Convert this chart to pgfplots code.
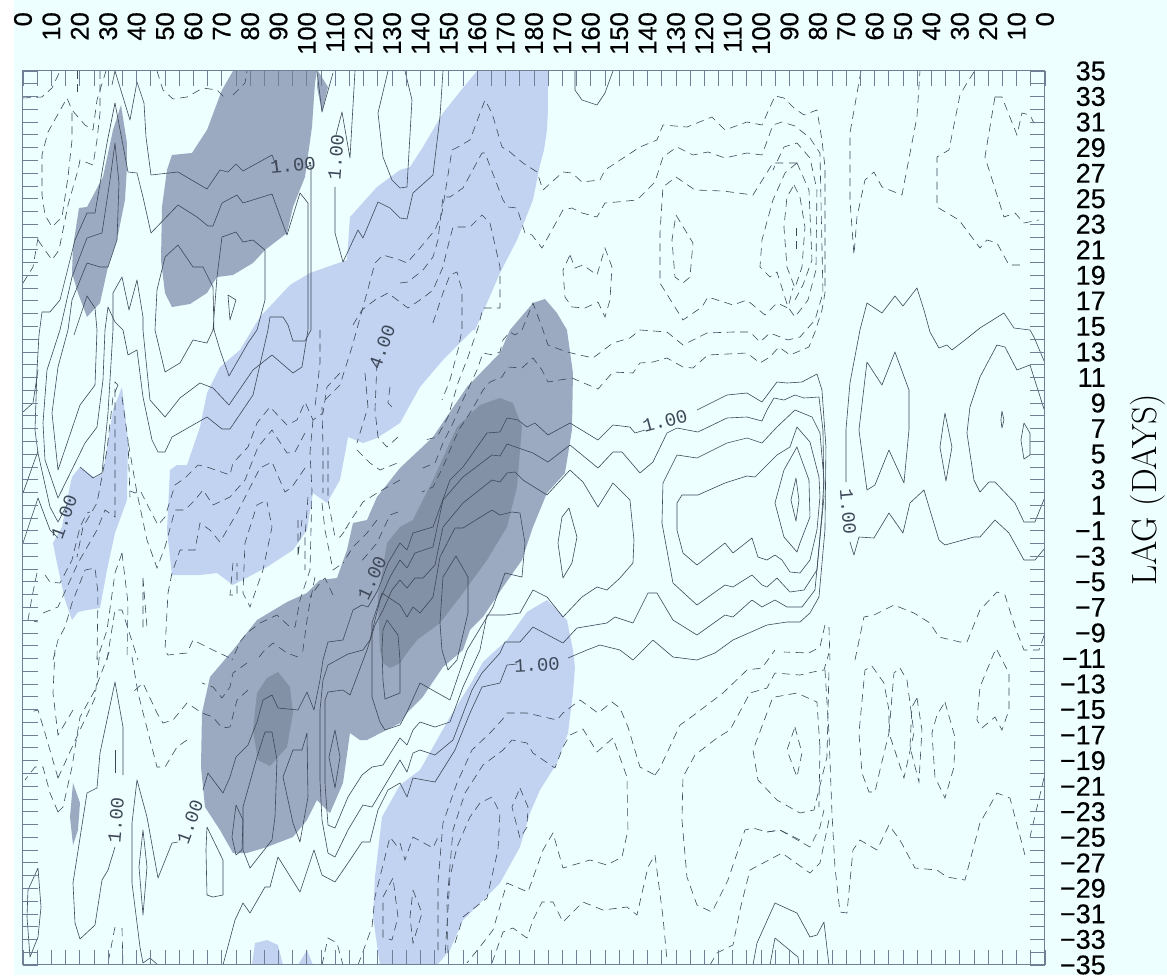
\documentclass[border=0pt]{standalone}
\usepackage{fontspec}
\usepackage{pgfplots}
\pgfplotsset{compat=1.18}
\setmainfont{Latin Modern Roman}
\newfontfamily\tickf[FakeBold=0.4]{Liberation Sans}
\newfontfamily\monof{Liberation Mono}
\definecolor{bgc}{HTML}{EEFFFF}
\definecolor{lightf}{HTML}{C1D3F0}
\definecolor{darkf}{HTML}{9BA9C1}
\definecolor{darkerf}{HTML}{8391A6}
\definecolor{linec}{HTML}{3E4859}
\definecolor{framec}{HTML}{717F96}
\pgfplotsset{
 sol/.style={linec,line width=0.6pt,no markers,line join=round},
 dsh/.style={linec,line width=0.6pt,no markers,dash pattern=on 8pt off 5.5pt},
 sh/.style={fill=#1,draw=none,no markers}
}
\newcommand\lab[4]{\node[rotate=#3,font=\monof\fontsize{19pt}{19pt}\selectfont,text=linec,inner sep=0pt] at (#1pt,{(976-#2)*1pt}) {#4};}
\begin{document}
\begin{tikzpicture}
\useasboundingbox (0,0) rectangle (1167pt,976pt);
\fill[white] (0,0) rectangle (1167pt,976pt);
\fill[bgc] (14pt,1pt) rectangle (1167pt,976pt);
\begin{axis}[
 at={(23pt,11pt)},anchor=south west,
 width=1022pt,height=894pt,scale only axis,
 xmin=0,xmax=360,ymin=-35,ymax=35,
 x filter/.expression={(x-23)/2.8389},
 y filter/.expression={35-(y-71)/12.771},
 axis on top,
 axis line style={framec,line width=1pt},
 tick style={framec,line width=0.8pt},
 tick align=inside,
 major tick length=15pt,minor tick length=15pt,
 xtick={0,10,...,360},minor x tick num=1,
 ytick={-35,-33,...,35},minor y tick num=1,
 xtick pos=both,ytick pos=both,
 xticklabel pos=top,yticklabel pos=right,
 xticklabels={0,10,20,30,40,50,60,70,80,90,100,110,120,130,140,150,160,170,180,170,160,150,140,130,120,110,100,90,80,70,60,50,40,30,20,10,0},
 yticklabels={−35,−33,−31,−29,−27,−25,−23,−21,−19,−17,−15,−13,−11,−9,−7,−5,−3,−1,1,3,5,7,9,11,13,15,17,19,21,23,25,27,29,31,33,35},
 xticklabel style={rotate=90,anchor=east,inner sep=0pt,xshift=59pt,font=\tickf\fontsize{25.5pt}{25.5pt}\selectfont},
 yticklabel style={anchor=east,inner sep=0pt,xshift=61pt,font=\tickf\fontsize{27pt}{27pt}\selectfont},
]
% shaded light
\addplot[sh=lightf] coordinates {(548,71)(548,110)(547,130)(544,150)(540,165)(533,200)(517,240)(500,273)(487,303)(475,330)(473,330)(443,360)(420,387)(400,423)(377,438)(363,443)(348,437)(347,443)(340,480)(327,503)(313,493)(307,530)(293,550)(267,567)(233,585)(217,573)(200,575)(172,575)(167,530)(170,470)(177,465)(187,465)(200,427)(207,393)(220,367)(240,350)(252,330)(260,317)(290,285)(310,273)(347,260)(350,217)(377,187)(400,170)(410,167)(423,147)(443,113)(463,88)(477,71)} -- cycle;
\addplot[sh=lightf] coordinates {(122,387)(128,440)(127,500)(115,533)(107,570)(100,608)(87,610)(78,612)(72,620)(65,600)(57,563)(53,543)(62,527)(67,500)(72,477)(80,467)(95,478)(103,473)(113,410)} -- cycle;
\addplot[sh=lightf] coordinates {(547,600)(567,620)(573,650)(575,667)(573,693)(568,733)(557,763)(540,790)(530,813)(520,847)(500,883)(483,900)(463,920)(450,950)(437,965)(380,965)(373,917)(375,877)(382,817)(400,785)(420,770)(433,747)(450,717)(473,680)(483,662)(507,640)(527,612)} -- cycle;
\addplot[sh=lightf] coordinates {(252,965)(255,943)(267,940)(278,945)(283,965)} -- cycle;
\addplot[sh=lightf] coordinates {(298,965)(307,950)(313,965)} -- cycle;
% shaded dark
\addplot[sh=darkf] coordinates {(233,71)(317,71)(315,83)(312,127)(305,177)(293,207)(287,233)(265,250)(253,263)(233,275)(217,277)(207,293)(190,304)(172,307)(165,293)(161,260)(162,207)(167,170)(172,155)(192,153)(207,130)(222,90)} -- cycle;
\addplot[sh=darkf] coordinates {(318,71)(328,87)(322,112)(317,87)} -- cycle;
\addplot[sh=darkf] coordinates {(121,105)(127,143)(127,167)(125,200)(117,240)(108,267)(100,303)(87,317)(78,293)(72,273)(73,247)(79,208)(87,207)(103,177)(113,130)} -- cycle;
\addplot[sh=darkf] coordinates {(73,783)(80,803)(78,830)(73,845)(70,817)} -- cycle;
\addplot[sh=darkf] coordinates {(545,299)(557,313)(567,330)(573,373)(572,430)(565,473)(547,493)(533,527)(522,560)(503,587)(483,617)(470,630)(463,650)(443,667)(422,698)(407,713)(400,723)(367,740)(360,740)(350,733)(343,783)(330,813)(317,800)(307,820)(293,837)(267,847)(247,853)(233,853)(220,830)(205,807)(201,767)(202,713)(210,677)(233,650)(257,620)(287,602)(307,593)(320,580)(337,578)(347,550)(353,523)(367,520)(377,497)(400,468)(433,437)(467,387)(500,353)(510,330)(533,303)} -- cycle;
% shaded darkest
\addplot[sh=darkerf] coordinates {(500,398)(513,403)(522,427)(517,487)(507,527)(487,560)(463,593)(440,623)(417,640)(407,653)(400,663)(390,668)(383,663)(380,650)(378,597)(387,543)(400,527)(413,520)(433,480)(457,427)(480,405)} -- cycle;
\addplot[sh=darkerf] coordinates {(278,672)(290,687)(293,713)(287,747)(270,766)(258,760)(253,730)(257,693)(267,678)} -- cycle;
% solid contours
\addplot[sol] coordinates {(115,71)(130,120)(137,82)(144,103)(146,137)(151,175)(178,172)(207,189)(220,170)(228,172)(236,164)(243,171)(272,155)(278,170)};
\addplot[sol] coordinates {(115,71)(112,85)};
\addplot[sol] coordinates {(305,168)(311,165)(311,330)(305,341)(293,341)(288,325)(283,317)(270,317)(268,330)(253,395)(230,429)(222,429)(207,417)(172,437)(165,452)(158,452)(152,440)(143,397)(137,350)(128,355)(123,330)(115,322)(108,307)(105,330)(103,380)(97,427)(85,443)(58,498)(45,460)(43,423)(47,370)(60,330)(72,277)(87,238)(102,233)(110,180)(115,143)(119,183)(117,240)(108,267)(100,267)(87,263)(72,300)(68,330)(58,367)(52,413)(58,470)(80,405)(95,385)(97,330)(95,308)(87,296)(80,317)(74,335)};
\addplot[sol] coordinates {(115,103)(107,143)(95,213)(87,213)(75,240)(60,300)(50,312)(42,312)(39,335)(37,370)(35,430)(38,453)(50,507)(58,522)(68,503)};
\addplot[sol] coordinates {(80,467)(93,478)(102,473)(108,413)(113,330)(113,293)(122,277)(129,310)(137,280)(143,317)(143,330)(150,400)(165,417)(180,398)(200,383)(213,388)(229,405)(253,370)(272,355)(293,373)(302,367)(308,330)(308,203)(300,193)(287,235)(272,194)(243,203)(237,195)(222,203)(213,226)(208,226)(197,217)(178,205)(151,233)(143,197)(137,173)(128,172)(115,103)};
\addplot[sol] coordinates {(155,330)(157,290)(165,257)(178,245)(193,267)(203,267)(213,287)(214,330)(220,350)(229,376)(248,343)(257,330)(265,300)(265,250)(253,240)(243,242)(236,232)(222,237)(217,277)(213,330)(207,343)(193,340)(180,363)(165,372)(155,330)};
\addplot[sol] coordinates {(228,295)(236,300)(230,320)(228,295)};
\addplot[sol] coordinates {(23,493)(38,451)};
\addplot[sol] coordinates {(23,543)(38,498)(50,530)(58,538)};
\addplot[sol] coordinates {(23,412)(33,403)(38,370)};
\addplot[sol] coordinates {(317,71)(322,112)(333,73)};
\addplot[sol] coordinates {(355,71)(350,158)(342,112)(336,135)};
\addplot[sol] coordinates {(335,187)(335,233)(343,262)(358,230)(363,238)(378,202)(390,208)(400,218)(407,219)(413,193)(433,175)(440,117)(443,71)};
\addplot[sol] coordinates {(388,71)(378,113)(383,157)(392,180)(400,188)(407,187)(412,100)(405,71)};
\addplot[sol] coordinates {(575,71)(575,90)(582,100)(597,105)(605,93)(613,71)};
% centre contours
\addplot[sol] coordinates {(203,790)(208,773)(223,793)(230,777)(236,757)(248,745)(257,722)(263,700)(272,695)(278,708)(298,710)(307,692)(314,710)(320,680)(323,660)(328,642)(343,640)(353,610)(362,605)(368,607)(378,590)(388,563)(400,543)(407,550)(413,533)(433,527)(450,480)(463,467)(487,433)(500,432)(507,418)(518,420)(527,427)(535,423)(548,435)(570,423)(598,440)(613,425)(630,427)(635,433)(645,430)};
\addplot[sol] coordinates {(697,410)(727,395)(747,393)(762,402)(777,382)(787,383)(802,382)(817,374)(822,390)(826,447)(825,530)(819,597)(810,613)(800,622)(787,622)(767,625)(733,640)(715,653)(697,660)(673,657)(653,640)(633,660)(620,650)(600,645)(587,650)(568,658)};
\addplot[sol] coordinates {(517,664)(507,665)(500,683)(482,687)(470,713)(455,750)(435,782)(413,778)(407,797)(400,783)(388,790)(378,810)(370,842)(362,842)(350,860)(335,882)(322,875)(314,850)(300,892)(278,857)(270,887)(265,887)(250,913)(243,903)(235,920)(223,965)};
\addplot[sol] coordinates {(400,560)(390,577)(380,600)(370,640)(363,650)(348,654)(328,665)(323,680)(320,710)(320,780)(322,820)(328,853)(335,857)(348,830)(363,805)(372,807)(400,760)(407,772)(413,753)(420,750)(435,755)(453,740)(472,690)(482,673)(500,653)(505,642)(520,642)(533,627)(563,643)(577,628)(607,623)(615,617)(633,623)(648,593)(657,593)(673,620)(697,635)(725,615)(733,617)(752,600)(762,607)(775,600)(787,607)(802,607)(815,590)(824,497)(823,430)(819,397)(804,398)(795,395)(784,400)(774,398)(767,410)(762,421)(747,417)(727,418)(698,432)(677,428)(667,433)(653,462)(640,473)(622,452)(613,452)(598,468)(570,445)(548,462)(533,453)(507,444)(500,456)(492,455)(463,477)(443,500)(433,547)(415,553)(407,568)(400,560)};
\addplot[sol] coordinates {(400,580)(392,590)(383,610)(375,625)(367,650)(350,695)(343,690)(328,692)(325,700)(325,783)(328,825)(335,828)(348,797)(362,775)(372,767)(383,765)(400,738)(407,745)(413,730)(420,722)(435,727)(450,722)(463,687)(480,650)(487,615)(505,615)(520,613)(533,590)(547,597)(563,617)(582,597)(597,587)(607,590)(620,578)(633,563)(634,540)(630,500)(613,483)(598,507)(583,482)(570,470)(547,495)(523,480)(515,472)(507,473)(500,482)(492,480)(463,503)(443,527)(435,565)(423,578)(415,578)(407,588)(400,580)};
\addplot[sol] coordinates {(400,605)(407,617)(413,607)(420,613)(433,597)(440,557)(455,528)(463,528)(492,510)(500,515)(512,512)(520,513)(525,543)(522,577)(505,573)(493,607)(467,650)(450,700)(420,683)(407,712)(400,725)(385,730)(380,722)(372,697)(372,650)(372,623)(382,593)(400,605)};
\addplot[sol] coordinates {(456,556)(468,577)(468,613)(457,660)(448,670)(442,650)(440,623)(443,577)(456,556)};
\addplot[sol] coordinates {(387,620)(398,635)(400,660)(400,693)(385,699)(383,680)(382,650)(383,630)(387,620)};
\addplot[sol] coordinates {(569,508)(577,537)(572,563)(563,578)(558,543)(562,517)(569,508)};
\addplot[sol] coordinates {(677,503)(682,495)(698,495)(725,483)(747,476)(755,477)(777,455)(790,447)(797,427)(810,442)(819,477)(820,497)(817,530)(810,560)(800,573)(790,572)(782,560)(775,555)(767,560)(758,557)(752,538)(733,553)(725,543)(697,565)(683,553)(677,530)(677,503)};
\addplot[sol] coordinates {(677,455)(697,458)(727,443)(747,438)(762,443)(777,427)(795,410)(812,417)(820,433)(824,480)(822,513)(817,570)(804,590)(790,592)(777,578)(767,587)(762,585)(752,575)(733,587)(725,585)(697,605)(673,583)(662,523)(663,483)(677,455)};
\addplot[sol] coordinates {(775,503)(784,470)(797,447)(809,480)(810,517)(800,543)(797,552)(784,537)(775,503)};
\addplot[sol] coordinates {(796,478)(799,500)(796,521)(791,500)(796,478)};
% lower-left solids
\addplot[sol] coordinates {(178,842)(172,843)(158,878)(147,817)(137,780)(132,823)(132,883)(140,947)(143,963)(150,958)(158,965)};
\addplot[sol] coordinates {(143,830)(147,867)(143,915)(139,867)(143,830)};
\addplot[sol] coordinates {(207,827)(223,860)(223,895)(213,897)(207,895)(206,850)(207,827)};
\addplot[sol] coordinates {(123,775)(123,727)(115,682)(100,753)(97,788)(87,793)(73,883)(75,923)(80,939)(95,925)(102,880)(108,870)(115,847)};
\addplot[sol] coordinates {(115,750)(115,773)};
\addplot[sol] coordinates {(236,805)(243,820)(242,850)(236,855)(232,837)(236,805)};
\addplot[sol] coordinates {(265,732)(272,732)(277,760)(275,817)(272,840)(250,868)(243,850)(243,807)(257,757)(265,732)};
\addplot[sol] coordinates {(38,868)(41,907)(38,937)(30,957)(27,917)(28,890)(38,868)};
\addplot[sol] coordinates {(307,733)(308,797)(300,842)(293,823)(283,777)(293,750)(302,750)(307,733)};
\addplot[sol] coordinates {(335,730)(340,757)(335,788)(329,757)(335,730)};
% right solids
\addplot[sol] coordinates {(846,482)(846,430)(850,383)(860,330)(867,303)(882,313)(895,296)(903,306)(917,288)(924,310)(930,332)(939,348)(947,345)(952,350)(965,340)(980,328)(1004,313)(1014,328)(1030,330)(1034,337)(1045,363)};
\addplot[sol] coordinates {(867,362)(882,385)(895,352)(909,390)(909,430)(904,483)(889,450)(875,485)(867,490)(859,430)(867,362)};
\addplot[sol] coordinates {(945,413)(952,447)(946,481)(940,447)(945,413)};
\addplot[sol] coordinates {(1045,412)(1030,365)(1017,370)(1005,347)(997,345)(980,377)(970,407)(967,433)(974,480)(980,492)(989,482)(995,482)(1015,503)(1024,522)(1035,522)(1045,497)};
\addplot[sol] coordinates {(1002,411)(1004,420)(1002,428)(1001,420)(1002,411)};
\addplot[sol] coordinates {(1024,423)(1030,433)(1030,455)(1024,459)(1021,440)(1024,423)};
\addplot[sol] coordinates {(850,542)(854,555)(859,537)(874,538)(889,513)(903,533)(910,503)(924,490)(939,540)(945,545)(974,537)(980,537)(995,520)(1009,533)(1024,560)(1035,560)(1045,548)};
\addplot[sol] coordinates {(753,965)(757,943)(775,903)(797,913)(810,937)(817,935)(824,922)(829,965)};
\addplot[sol] coordinates {(770,965)(775,938)(798,957)(799,965)};
% dashed contours
\addplot[dsh] coordinates {(325,400)(340,385)(352,347)(365,300)(375,263)(383,255)(400,260)(407,263)(420,248)(435,230)(442,213)(452,150)(458,147)(470,140)(485,100)(492,113)(502,147)(510,152)(523,163)(537,172)(543,190)(563,172)(572,173)(582,182)(600,180)(605,170)(640,147)(657,140)(663,125)(687,127)(712,117)(725,130)(747,122)(762,125)(775,96)(784,98)(794,108)(804,115)(817,110)(822,140)(825,167)(825,293)(822,310)(815,332)(809,347)(790,355)(779,347)(770,357)(760,363)(747,353)(708,355)(693,368)(683,367)(667,358)(653,362)(640,363)(633,373)(613,372)(598,389)(572,378)(548,382)(542,370)(533,358)(522,368)(508,367)(502,377)(490,382)(483,390)(472,410)(460,428)(453,443)(443,467)(433,487)(422,492)};
\addplot[dsh] coordinates {(400,283)(408,282)(423,270)(433,257)(438,240)(443,197)(450,197)(463,188)(482,153)(485,153)(503,200)(508,207)(517,208)(525,233)(532,235)(542,248)(563,210)(572,208)(582,213)(597,217)(605,203)(617,202)(637,200)(655,182)(663,157)(677,147)(693,155)(708,152)(725,158)(747,153)(762,155)(773,125)(782,122)(795,126)(810,138)(820,153)(823,293)(815,320)(800,337)(788,340)(770,333)(760,342)(750,332)(733,332)(707,333)(683,345)(667,332)(640,330)(630,338)(613,343)(593,358)(567,352)(548,345)(543,330)(533,303)(522,330)(515,335)(510,332)(503,340)(500,352)(493,355)(483,353)(477,370)(463,400)(453,423)(443,443)(435,463)(418,470)};
\addplot[dsh] coordinates {(570,255)(575,268)(583,265)(597,275)(605,248)(612,267)(610,300)(605,317)(598,302)(585,308)(572,307)(565,297)(563,270)(570,255)};
\addplot[dsh] coordinates {(676,215)(693,243)(690,277)(683,283)(675,277)(672,240)(676,215)};
\addplot[dsh] coordinates {(797,163)(773,163)(753,195)(723,191)(695,190)(676,177)(663,187)(660,233)(660,283)(683,320)(702,307)(708,297)(733,305)(747,300)(765,315)(777,303)(788,308)(793,288)};
\addplot[dsh] coordinates {(797,163)(809,190)(812,260)(803,285)(795,300)};
\addplot[dsh] coordinates {(797,163)(785,173)(773,200)(762,240)(760,267)(770,277)(777,272)(788,307)(795,317)(808,300)(816,270)(817,190)(810,158)(797,143)(784,147)(773,170)};
\addplot[dsh] coordinates {(794,185)(800,197)(805,227)(802,267)(795,288)(787,267)(784,227)(787,197)(794,185)};
\addplot[dsh] coordinates {(796,228)(796,250)};
% top left dashes
\addplot[dsh] coordinates {(23,98)(42,97)(52,88)(60,71)};
\addplot[dsh] coordinates {(77,71)(77,97)};
\addplot[dsh] coordinates {(72,113)(72,140)(68,177)(62,217)(52,227)(45,215)(42,195)(42,155)(48,132)(67,98)(72,110)(85,125)(93,130)(97,100)(106,71)};
\addplot[dsh] coordinates {(100,71)(100,113)(97,140)(93,165)(80,160)(78,170)(68,205)(59,250)(52,260)(40,243)(37,238)};
\addplot[dsh] coordinates {(23,283)(33,267)(38,238)};
\addplot[dsh] coordinates {(157,71)(163,90)(173,99)(187,97)(203,88)(217,90)(227,100)};
\addplot[dsh] coordinates {(233,95)(245,83)(247,71)};
% band dashes
\addplot[dsh] coordinates {(353,325)(362,310)(375,300)(388,293)(400,302)(408,308)(423,298)(433,290)(443,267)(447,250)(453,227)(470,227)(482,215)(490,223)(500,267)(500,308)(483,308)(478,328)(468,357)(458,383)(448,417)(437,437)(425,440)};
\addplot[dsh] coordinates {(433,323)(443,293)(450,275)(457,272)(462,290)(462,330)(458,350)(450,380)(442,400)};
\addplot[dsh] coordinates {(340,373)(327,387)(323,413)(313,420)(305,402)(297,420)(287,425)(270,407)(257,423)(248,447)(233,463)(230,475)(207,467)(198,465)(185,478)(175,485)(165,517)(158,525)(150,510)(140,490)(135,493)(128,490)};
\addplot[dsh] coordinates {(305,433)(295,452)(287,453)(272,430)(258,447)(245,480)(230,497)(213,505)(203,490)(195,500)(185,510)(175,510)(165,547)(157,568)(147,540)(137,493)(128,441)};
\addplot[dsh] coordinates {(305,468)(292,487)(285,492)(272,462)(260,468)(237,513)(220,542)(210,530)(200,523)(195,550)(180,550)(172,573)(168,593)(165,650)(168,655)(187,653)(193,640)(213,650)(230,658)};
\addplot[dsh] coordinates {(263,502)(257,505)(245,543)(243,593)(250,607)(263,570)(272,527)(267,502)};
\addplot[dsh] coordinates {(233,563)(230,595)(237,595)(237,563)};
\addplot[dsh] coordinates {(320,330)(320,363)(315,407)};
\addplot[dsh] coordinates {(322,407)(323,447)(323,493)};
\addplot[dsh] coordinates {(328,447)(328,500)(335,537)(340,537)(348,527)};
\addplot[dsh] coordinates {(313,420)(310,453)(312,490)(310,570)(300,600)(295,627)(290,627)(277,615)(260,623)(247,633)(240,642)(232,660)};
\addplot[dsh] coordinates {(298,520)(298,557)(302,520)};
\addplot[dsh] coordinates {(308,497)(305,537)(305,570)};
\addplot[dsh] coordinates {(322,503)(325,530)(333,570)(343,563)};
\addplot[dsh] coordinates {(357,450)(370,463)(380,470)(400,462)};
\addplot[dsh] coordinates {(377,363)(375,410)(378,437)(387,447)(398,437)};
\addplot[dsh] coordinates {(365,373)(368,407)(357,443)};
\addplot[dsh] coordinates {(390,387)(388,403)(395,410)};
\addplot[dsh] coordinates {(400,480)(377,493)(363,502)(353,517)(343,533)};
\addplot[dsh] coordinates {(377,520)(367,533)(353,547)(343,563)};
\addplot[dsh] coordinates {(398,512)(390,515)(377,543)(360,563)};
\addplot[dsh] coordinates {(333,595)(325,578)(320,583)(310,597)};
\addplot[dsh] coordinates {(298,657)(287,653)(273,643)(263,652)(257,660)};
\addplot[dsh] coordinates {(315,577)(308,613)(302,657)};
\addplot[dsh] coordinates {(247,663)(233,673)(230,687)(222,698)(213,687)(202,683)};
\addplot[dsh] coordinates {(248,690)(237,700)(230,727)(222,728)(213,717)(202,713)(187,703)(173,720)(163,723)(157,713)(143,683)(133,692)};
\addplot[dsh] coordinates {(187,740)(177,747)(165,767)(157,767)(147,728)(138,693)(132,657)};
\addplot[dsh] coordinates {(58,778)(45,733)(38,710)(30,712)};
\addplot[dsh] coordinates {(73,710)(58,735)(53,693)(55,650)};
\addplot[dsh] coordinates {(58,778)(80,730)(95,698)(100,650)};
\addplot[dsh] coordinates {(58,812)(63,807)(72,767)(80,717)(95,690)(110,650)};
\addplot[dsh] coordinates {(58,812)(50,793)(43,767)(35,767)(25,780)};
\addplot[dsh] coordinates {(37,573)(32,597)(28,620)(38,622)};
\addplot[dsh] coordinates {(45,575)(50,582)(60,583)(72,560)(80,527)(87,513)(90,512)};
\addplot[dsh] coordinates {(53,660)(58,640)(65,627)(72,603)(85,570)(95,568)(98,593)(97,660)};
\addplot[dsh] coordinates {(43,613)(58,607)(78,563)(97,530)(105,510)(115,517)(115,450)(115,382)(118,385)};
\addplot[dsh] coordinates {(118,385)(113,397)(107,450)(97,503)(83,527)(77,557)};
\addplot[dsh] coordinates {(122,397)(128,440)(130,497)};
\addplot[dsh] coordinates {(122,553)(115,573)(107,630)(97,660)};
\addplot[dsh] coordinates {(122,553)(128,603)(127,660)};
\addplot[dsh] coordinates {(143,578)(147,627)(143,628)(143,578)};
\addplot[dsh] coordinates {(107,660)(115,610)(122,610)(138,660)};
\addplot[dsh] coordinates {(115,927)(108,963)};
\addplot[dsh] coordinates {(122,928)(123,965)};
\addplot[dsh] coordinates {(322,965)(328,938)(337,943)(343,965)};
\addplot[dsh] coordinates {(358,965)(372,927)(375,897)(390,837)(400,850)};
\addplot[dsh] coordinates {(393,878)(383,897)(383,937)(392,940)(398,917)(393,878)};
% centre bottom dashes
\addplot[dsh] coordinates {(438,950)(438,883)(443,823)(457,783)(472,750)(490,733)(502,720)(507,713)(527,713)(557,720)(563,713)(580,700)(598,713)(612,702)(620,708)(628,727)(640,767)(655,775)};
\addplot[dsh] coordinates {(655,775)(660,768)(680,725)(690,718)(723,693)(747,670)(762,668)(775,650)};
\addplot[dsh] coordinates {(448,953)(447,903)(453,830)(465,793)(483,765)(503,750)(512,740)(527,743)(533,753)(555,768)(563,747)(570,735)(583,729)(597,752)(613,738)(627,777)(628,830)(622,857)(607,865)(590,860)(563,868)(553,833)(543,850)(528,892)(507,883)(493,930)(483,943)(467,963)};
\addplot[dsh] coordinates {(492,963)(503,932)(513,928)(527,938)(533,920)(542,902)(553,902)(563,922)(583,902)(603,910)(627,907)(637,915)(648,867)(655,855)(663,917)(667,960)};
\addplot[dsh] coordinates {(455,943)(463,917)(487,898)(498,850)(500,813)(492,797)(480,803)(470,817)(457,847)(450,877)(445,957)};
\addplot[dsh] coordinates {(520,788)(528,807)(527,827)(520,838)(512,807)(520,788)};
\addplot[dsh] coordinates {(413,890)(422,913)(413,943)(410,917)(413,890)};
\addplot[dsh] coordinates {(400,843)(405,860)(413,837)(433,848)(438,837)};
\addplot[dsh] coordinates {(800,840)(780,830)(767,832)(753,828)(745,830)(728,880)(712,912)(697,905)(687,877)(682,820)(683,777)(695,755)(717,738)(730,730)(750,693)(767,688)(775,673)(800,675)(813,672)(824,670)(829,653)};
\addplot[dsh] coordinates {(820,747)(817,702)(797,693)(775,697)(773,697)(758,737)(753,750)(758,780)(777,800)(800,813)(814,810)(827,757)(829,670)};
\addplot[dsh] coordinates {(820,747)(819,807)};
\addplot[dsh] coordinates {(795,727)(802,753)(797,777)(787,750)(795,727)};
\addplot[dsh] coordinates {(710,965)(717,953)(733,945)(740,910)(750,870)(782,853)(810,873)(820,863)(829,820)};
\addplot[dsh] coordinates {(825,670)(829,733)(832,813)(835,867)(840,912)(847,913)(853,850)(860,840)(877,850)(889,825)(900,840)(915,868)(937,870)(947,877)(965,880)(980,823)(997,793)(1010,798)(1025,855)};
\addplot[dsh] coordinates {(767,832)(780,830)(810,847)(820,827)(824,810)};
% right dashes
\addplot[dsh] coordinates {(872,666)(884,683)(889,710)(889,733)(880,770)(875,792)(869,792)(862,773)(859,733)(865,670)(872,666)};
\addplot[dsh] coordinates {(900,668)(907,680)(914,733)(904,778)(889,733)(894,673)(900,668)};
\addplot[dsh] coordinates {(917,698)(922,730)(919,782)(910,747)(912,707)(917,698)};
\addplot[dsh] coordinates {(945,702)(955,737)(954,767)(945,798)(935,777)(932,733)(937,715)(945,702)};
\addplot[dsh] coordinates {(997,650)(1009,673)(1009,710)(1002,730)(995,717)(982,728)(977,720)(980,687)(994,653)(997,650)};
\addplot[dsh] coordinates {(825,625)(820,647)(809,653)(784,652)};
\addplot[dsh] coordinates {(829,627)(830,660)};
\addplot[dsh] coordinates {(855,660)(864,617)(874,615)(894,605)(914,613)(930,623)(939,637)(960,642)(967,642)(980,610)(997,592)(1005,595)(1015,627)(1024,650)(1039,650)(1045,633)};
\addplot[dsh] coordinates {(861,71)(850,133)(850,200)(854,255)(857,217)(865,180)(874,172)(882,187)(902,195)(917,117)(920,71)};
\addplot[dsh] coordinates {(974,72)(967,83)(960,95)(949,150)(937,157)(937,207)(959,220)(980,248)(987,240)(997,243)(1009,265)(1024,265)};
\addplot[dsh] coordinates {(995,97)(985,157)(1004,217)(1015,213)(1024,223)(1039,220)};
\addplot[dsh] coordinates {(995,97)(1002,97)(1017,135)(1022,113)(1030,115)(1034,123)};
\addplot[dsh] coordinates {(1044,778)(1030,837)};
\end{axis}
\lab{293}{165}{5}{1.00}
\lab{336}{157}{85}{1.00}
\lab{64}{517}{70}{1.00}
\lab{372}{578}{65}{1.00}
\lab{382}{347}{70}{4.00}
\lab{665}{421}{15}{1.00}
\lab{848}{512}{-85}{1.00}
\lab{537}{665}{3}{1.00}
\lab{116}{820}{85}{1.00}
\lab{190}{822}{70}{1.00}
\node[rotate=90,font=\fontsize{35pt}{35pt}\selectfont,inner sep=0pt] at (1148pt,{(976-490)*1pt}) {LAG (DAYS)};
\end{tikzpicture}
\end{document}
